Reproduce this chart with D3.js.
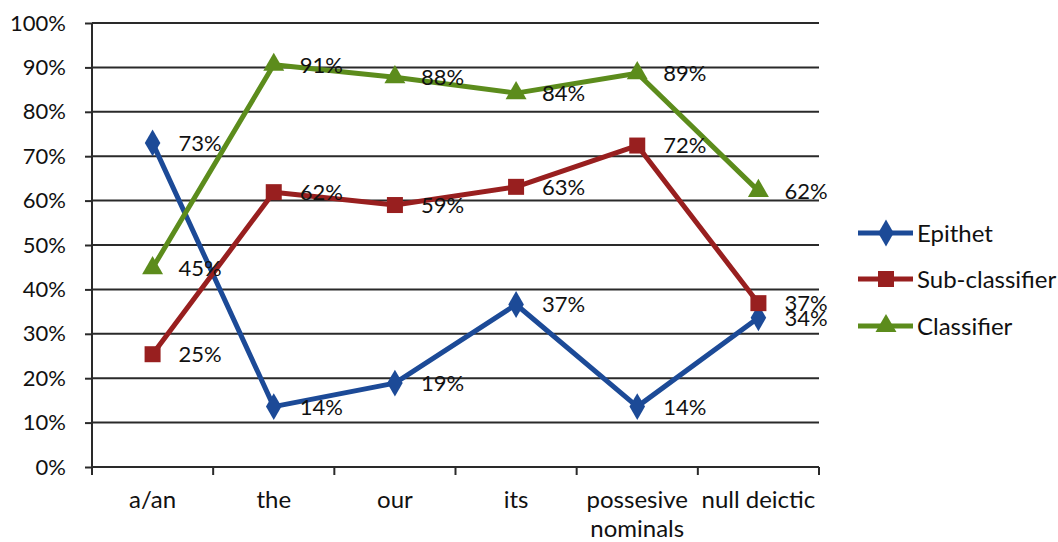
<!DOCTYPE html>
<meta charset="utf-8">
<style>
body { margin: 0; background: #fff; }
text { font-family: Lato, "Open Sans", sans-serif; fill: #111; }
.grid line { stroke: #2a2a2a; stroke-width: 2; }
.axis path, .axis line { stroke: #2a2a2a; stroke-width: 2; }
</style>
<body>
<svg width="1058" height="542"></svg>
<script src="https://cdn.jsdelivr.net/npm/d3@7"></script>
<script>

var categories = ["a/an", "the", "our", "its", "possesive nominals", "null deictic"];
var epithet = [73, 13.6, 18.9, 36.6, 13.6, 33.6];
var subClassifier = [25.4, 61.9, 59.0, 63.1, 72.4, 36.9];
var classifier = [44.8, 90.6, 87.8, 84.2, 88.7, 62.2];
var seriesNames = ["Epithet", "Sub-classifier", "Classifier"];
var seriesColors = ["#1c4a97", "#981f1f", "#5c8c1c"];
var yTicks = [0, 10, 20, 30, 40, 50, 60, 70, 80, 90, 100];

var svg = d3.select("svg");
var plotLeft = 92, plotRight = 819, plotTop = 23, plotBottom = 467;
var fontSize = 22, wordSize = 24;

var x = d3.scaleBand().domain(categories).range([plotLeft, plotRight]);
var y = d3.scaleLinear().domain([0, 100]).range([plotBottom, plotTop]);

// gridlines
svg.append("g").attr("class", "grid")
  .selectAll("line").data(yTicks.slice(1)).enter().append("line")
    .attr("x1", plotLeft).attr("x2", plotRight)
    .attr("y1", function(d) { return y(d); })
    .attr("y2", function(d) { return y(d); });

// y axis
var yAxis = svg.append("g").attr("class", "axis")
  .attr("transform", "translate(" + plotLeft + ",0)")
  .call(d3.axisLeft(y).tickValues(yTicks).tickSize(7).tickPadding(19)
    .tickFormat(function(d) { return d + "%"; }));
yAxis.select(".domain").attr("d", "M0," + plotTop + "V" + plotBottom);
yAxis.selectAll("text").attr("font-size", fontSize).style("font-family", "Lato, sans-serif").attr("fill", "#111");

// x axis, ticks at band edges
var xAxis = svg.append("g").attr("class", "axis")
  .attr("transform", "translate(0," + plotBottom + ")");
xAxis.append("line").attr("x1", plotLeft).attr("x2", plotRight).attr("y1", 0).attr("y2", 0);
var edges = categories.map(function(c) { return x(c); }).concat([plotRight]);
xAxis.selectAll(".edge").data(edges).enter().append("line")
  .attr("class", "edge")
  .attr("x1", function(d) { return d; }).attr("x2", function(d) { return d; })
  .attr("y1", 0).attr("y2", 8);
xAxis.selectAll(".cat").data(categories).enter().append("text")
  .attr("class", "cat")
  .attr("y", 41)
  .attr("text-anchor", "middle")
  .attr("font-size", wordSize)
  .each(function(d) {
    var t = d3.select(this);
    var parts = d === "possesive nominals" ? ["possesive", "nominals"] : [d];
    parts.forEach(function(p, i) {
      t.append("tspan").attr("x", x(d) + x.bandwidth() / 2).attr("dy", i ? 29 : 0).text(p);
    });
  });

var allSeries = [epithet, subClassifier, classifier];
var line = d3.line()
  .x(function(d, i) { return x(categories[i]) + x.bandwidth() / 2; })
  .y(function(d) { return y(d); });

function marker(sel, k, size) {
  if (k === 0) {
    sel.append("path").attr("d", d3.symbol().type(d3.symbolDiamond).size(size * 1.1)).attr("fill", seriesColors[k]);
  } else if (k === 1) {
    sel.append("rect").attr("x", -8).attr("y", -8).attr("width", 16).attr("height", 16).attr("fill", seriesColors[k]);
  } else {
    sel.append("path").attr("d", d3.symbol().type(d3.symbolTriangle).size(size)).attr("fill", seriesColors[k]);
  }
}

allSeries.forEach(function(vals, k) {
  var g = svg.append("g");
  g.append("path").datum(vals)
    .attr("fill", "none")
    .attr("stroke", seriesColors[k])
    .attr("stroke-width", 5)
    .attr("stroke-linejoin", "round")
    .attr("d", line);
  vals.forEach(function(v, i) {
    var m = g.append("g").attr("transform", "translate(" + (x(categories[i]) + x.bandwidth() / 2) + "," + y(v) + ")");
    marker(m, k, 190);
  });
});

// data labels on top
allSeries.forEach(function(vals, k) {
  svg.append("g").selectAll("text").data(vals).enter().append("text")
    .attr("x", function(d, i) { return x(categories[i]) + x.bandwidth() / 2 + 26; })
    .attr("y", function(d) { return y(d); })
    .attr("dy", "0.36em")
    .attr("font-size", fontSize)
    .text(function(d) { return Math.round(d) + "%"; });
});

// legend
var legend = svg.append("g").attr("transform", "translate(858,0)");
var legendY = [233, 279, 326];
seriesNames.forEach(function(name, k) {
  var g = legend.append("g").attr("transform", "translate(0," + legendY[k] + ")");
  g.append("line").attr("x1", 0).attr("x2", 55).attr("stroke", seriesColors[k]).attr("stroke-width", 5);
  var m = g.append("g").attr("transform", "translate(28,0)");
  marker(m, k, 190);
  g.append("text").attr("x", 59).attr("dy", "0.36em").attr("font-size", wordSize).text(name);
});
</script>
</body>
